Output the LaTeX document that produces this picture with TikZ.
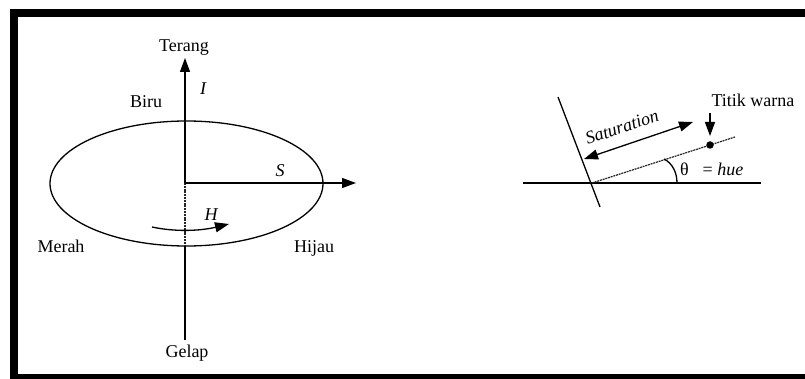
\documentclass[tikz,border=0pt]{standalone}
\usepackage{fontspec}
\setmainfont{Liberation Serif}
\usetikzlibrary{arrows.meta}
\tikzset{
  lbl/.style={inner sep=0pt, anchor=base, font=\fontsize{18}{21}\selectfont},
  ilbl/.style={lbl, font=\fontsize{18}{21}\selectfont\itshape},
  ln/.style={line width=1.3pt},
  tri/.style={-{Triangle[length=14,width=10]}},
  dtri/.style={{Triangle[length=14,width=10]}-{Triangle[length=14,width=10]}},
  dots/.style={line width=1.2pt, dash pattern=on 2pt off 0.8pt, black!85},
}
\begin{document}
\begin{tikzpicture}[x=1pt,y=-1pt]
\useasboundingbox (0,0) rectangle (805,379);
\fill[white] (0,0) rectangle (805,379);
% frame
\fill[black] (10,9) rectangle (18,379);
\fill[black] (10,9) rectangle (805,17);
\fill[black] (10,374) rectangle (805,379);

% ---- left diagram ----
\coordinate (O) at (185,183);
\coordinate (Itop) at (185,58);
\coordinate (Ibot) at (185,340);
\coordinate (Ebot) at (185,246);
\coordinate (Send) at (356,183);
\draw[ln] (186.5,183.5) ellipse [x radius=136.5, y radius=62.5];
\draw[ln,tri] (O) -- (Itop);
\draw[dots] (O) -- (Ebot);
\draw[ln] (Ebot) -- (Ibot);
\draw[ln,tri] (O) -- (Send);
\coordinate (Hs) at (152,227);
\coordinate (He) at (229,224);
\draw[ln,tri] (Hs) .. controls (175,232) and (200,231) .. (He);

\node[lbl] (terang) at (184,52) {Terang};
\node[ilbl] (ilab) at (203,95) {I};
\node[lbl] (biru) at (146,108) {Biru};
\node[ilbl] (slab) at (280,177) {S};
\node[ilbl] (hlab) at (211,221) {H};
\node[lbl] (merah) at (61,252) {Merah};
\node[lbl] (hijau) at (314,252) {Hijau};
\node[lbl] (gelap) at (187,357) {Gelap};

% ---- right diagram ----
\coordinate (P) at (592,183);
\coordinate (hl) at (523,183);
\coordinate (hr) at (761,183);
\coordinate (st) at (558,97);
\coordinate (sb) at (600,207);
\coordinate (de) at (735,137);
\draw[ln] (hl) -- (hr);
\draw[ln] (st) -- (sb);
\draw[dots] (P) -- (de);
\node[circle, fill=black, inner sep=0pt, minimum size=7.5pt] (dot) at (710,145) {};
\coordinate (a0) at (677,183);
\coordinate (a1) at (664,159);
\draw[ln] (a0) .. controls (677,172) and (672,163) .. (a1);
\coordinate (sa) at (584,159);
\coordinate (sz) at (693,122);
\draw[ln,dtri] (sa) -- (sz);
\node[ilbl, anchor=center, rotate=19] (sat) at (622,127) {Saturation};
\node[lbl] (titik) at (753,107) {Titik warna};
\coordinate (ta) at (710,113);
\coordinate (tb) at (710,136);
\draw[ln,tri] (ta) -- (tb);
\node[lbl] (theta) at (684.5,176) {θ};
\node[lbl] (hue) at (723,176) {= \textit{hue}};
\end{tikzpicture}
\end{document}
